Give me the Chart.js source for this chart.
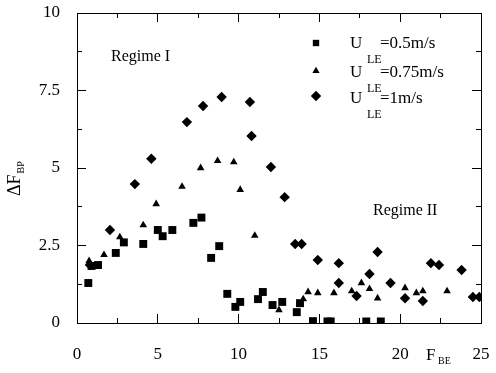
<!DOCTYPE html>
<html><head><meta charset="utf-8">
<script src="https://cdn.jsdelivr.net/npm/chart.js@4/dist/chart.umd.min.js"></script>
<style>html,body{margin:0;padding:0;background:#fff}#wrap{width:496px;height:373px}</style>
</head><body><div id="wrap"><canvas id="c" width="496" height="373"></canvas></div>
<script>
// U_LE = 0.5 m/s (squares)
const sqX = [0.7,0.9,1.3,2.4,2.9,4.1,5.0,5.3,5.9,7.2,7.7,8.3,8.8,9.3,9.8,10.1,11.2,11.5,12.1,12.7,13.6,13.8,14.6,15.5,15.7,17.9,18.8];
const sqY = [1.29,1.84,1.87,2.26,2.6,2.55,3.0,2.8,3.0,3.23,3.4,2.1,2.48,0.94,0.52,0.68,0.77,1.0,0.58,0.68,0.35,0.64,0.06,0.05,0.05,0.05,0.05];
// U_LE = 0.75 m/s (triangles)
const trX = [0.75,1.67,2.65,4.1,4.9,6.5,7.65,8.7,9.7,10.1,11.0,12.5,14.0,14.3,14.9,15.9,17.0,17.6,18.1,18.6,20.3,21.0,21.4,22.9];
const trY = [2.0,2.2,2.77,3.16,3.84,4.4,5.0,5.23,5.19,4.3,2.82,0.42,0.77,1.0,0.97,0.97,1.03,1.29,1.1,0.8,1.13,0.97,1.03,1.03];
// U_LE = 1 m/s (diamonds)
const dmX = [0.8,2.04,3.58,4.6,6.8,7.8,8.95,10.7,10.8,12.0,12.85,13.5,13.9,14.9,16.2,16.2,17.3,18.1,18.6,19.4,20.3,21.4,21.9,22.4,23.8,24.5,24.9];
const dmY = [1.87,3.0,4.48,5.3,6.48,7.0,7.29,7.13,6.03,5.03,4.06,2.55,2.55,2.03,1.93,1.29,0.87,1.58,2.29,1.29,0.8,0.71,1.93,1.87,1.71,0.84,0.84];
const seriesNames = ["=0.5m/s","=0.75m/s","=1m/s"];
const xTicks = [0,5,10,15,20,25];
const xMinorTicks = [0,2.5,5,7.5,10,12.5,15,17.5,20,22.5,25];
const yTicks = [0,2.5,5,7.5,10];
const yMinorTicks = [0,1.25,2.5,3.75,5,6.25,7.5,8.75,10];
const regimeLabels = ["Regime I","Regime II"];

const SERIF = '"Liberation Serif","DejaVu Serif",serif';
const pts = (xs, ys) => xs.map((v,i)=>({x:v, y:ys[i]}));

function axisCfg(axis, position, tickVals, len, weight, size, labels){
  const horiz = axis === 'x';
  return {
    type:'linear', axis, position, weight,
    min: 0, max: horiz ? 25 : 10,
    afterBuildTicks(s){ s.ticks = tickVals.map(v=>({value:v})); },
    afterFit(s){
      if (horiz) { s.height = size; } else { s.width = size; }
      s.paddingTop = 0; s.paddingBottom = 0; s.paddingLeft = 0; s.paddingRight = 0;
    },
    grid:{display:true, drawOnChartArea:false, drawTicks:true, tickLength:-len, color:'#000', tickColor:'#000', lineWidth:1, tickWidth:1},
    border:{display:true, color:'#000', width:1},
    ticks: labels ? {padding: horiz ? 30 : 26, color:'#000', font:{family:SERIF, size:17}, maxRotation:0, autoSkip:false}
                  : {display:true, color:'rgba(0,0,0,0)', callback:()=>'' , autoSkip:false, padding:0, font:{size:1}}
  };
}

const decor = {
  id:'decor',
  afterDraw(chart){
    const ctx = chart.ctx;
    ctx.save();
    ctx.fillStyle='#000';
    ctx.textBaseline='alphabetic'; ctx.textAlign='left';
    ctx.font='16px '+SERIF;
    ctx.fillText(regimeLabels[0], 111, 61);
    ctx.fillText(regimeLabels[1], 373, 215);
    const ds = chart.data.datasets;
    const rows = [{my:43,by:48},{my:71,by:77},{my:96,by:103}];
    const mr = [4.5,4.2,5.2];
    rows.forEach((r,i)=>{
      ctx.fillStyle='#000';
      Chart.helpers.drawPoint(ctx,{pointStyle:ds[i].pointStyle, radius:mr[i], borderWidth:0}, 316, r.my);
      ctx.font='17px '+SERIF;
      ctx.fillText('U', 350, r.by);
      ctx.font='12px '+SERIF;
      ctx.fillText('LE', 367, r.by+15);
      ctx.font='17px '+SERIF;
      ctx.fillText(seriesNames[i], 380, r.by);
    });
    ctx.font='17px '+SERIF;
    ctx.fillText('F', 426, 360);
    ctx.font='10px '+SERIF;
    ctx.fillText('BE', 438, 364);
    ctx.save();
    ctx.translate(20,196);
    ctx.rotate(-Math.PI/2);
    ctx.font='18px '+SERIF;
    ctx.fillText('\u0394F',0,0);
    const w = ctx.measureText('\u0394F').width;
    ctx.font='10px '+SERIF;
    ctx.fillText('BP', w+1, 4);
    ctx.restore();
    ctx.restore();
  }
};

new Chart(document.getElementById('c'), {
  type:'scatter',
  data:{datasets:[
    {data:pts(sqX,sqY), pointStyle:'rect', pointRadius:5.6, backgroundColor:'#000', borderColor:'#000', borderWidth:0},
    {data:pts(trX,trY), pointStyle:'triangle', pointRadius:4.4, backgroundColor:'#000', borderColor:'#000', borderWidth:0},
    {data:pts(dmX,dmY), pointStyle:'rectRot', pointRadius:5.2, backgroundColor:'#000', borderColor:'#000', borderWidth:0}
  ]},
  options:{
    responsive:false, animation:false, devicePixelRatio:1,
    layout:{padding:{left:0,top:13,right:15,bottom:0}},
    plugins:{legend:{display:false}, tooltip:{enabled:false}},
    scales:{
      x:  axisCfg('x','bottom', xTicks, 9, 1, 50, true),
      xb: axisCfg('x','bottom', xMinorTicks, 5, 0, 0, false),
      xt: axisCfg('x','top', xTicks, 9, 1, 0, false),
      xt2:axisCfg('x','top', xMinorTicks, 5, 0, 0, false),
      y:  axisCfg('y','left', yTicks, 9, 1, 77, true),
      yl: axisCfg('y','left', yMinorTicks, 5, 0, 0, false),
      yr: axisCfg('y','right', yTicks, 9, 1, 0, false),
      yr2:axisCfg('y','right', yMinorTicks, 5, 0, 0, false)
    }
  },
  plugins:[decor]
});
</script></body></html>
